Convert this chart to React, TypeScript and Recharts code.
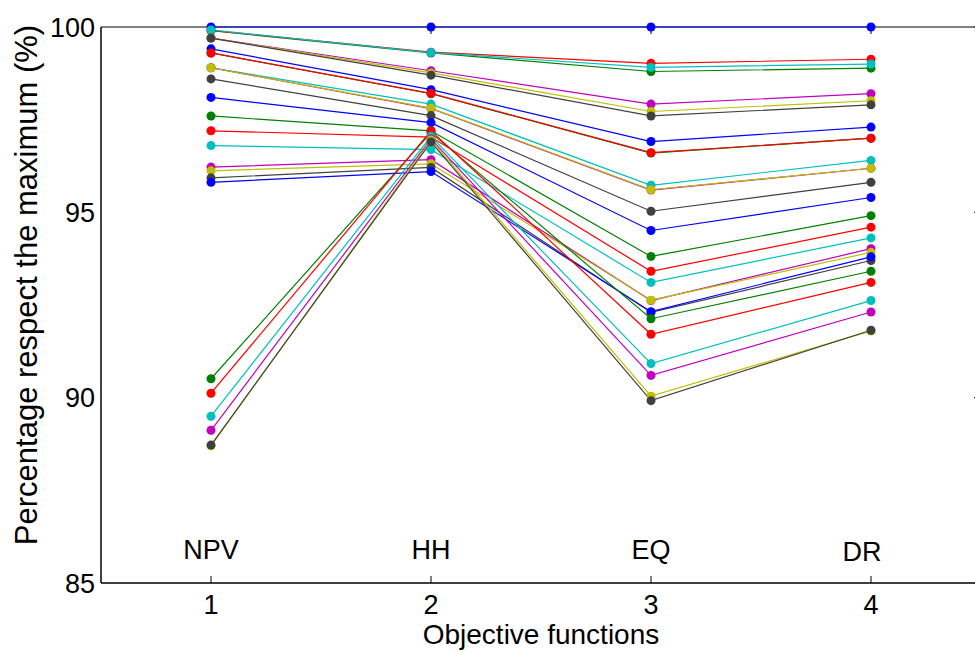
import React from "react";
import {
  LineChart,
  Line,
  XAxis,
  YAxis,
  ReferenceDot,
  ReferenceLine,
} from "recharts";

// Objective positions on the x axis and their short names
const objectives = [1, 2, 3, 4];
const objectiveNames = ["NPV", "HH", "EQ", "DR"];
const yTicks = [85, 90, 95, 100];

// MATLAB-like colour cycle
const palette = ["#0000ff", "#008000", "#ff0000", "#00bfbf", "#bf00bf", "#bfbf00", "#404040"];

// Percentage of the maximum reached by each solution for NPV, HH, EQ, DR
const solution01 = [100, 100, 100, 100];
const solution02 = [99.9, 99.3, 98.8, 98.89];
const solution03 = [99.91, 99.32, 99.02, 99.13];
const solution04 = [99.92, 99.31, 98.91, 99.0];
const solution05 = [99.7, 98.82, 97.92, 98.2];
const solution06 = [99.7, 98.76, 97.72, 98.01];
const solution07 = [99.7, 98.7, 97.6, 97.9];
const solution08 = [99.41, 98.31, 96.91, 97.3];
const solution09 = [99.3, 98.2, 96.6, 97.0];
const solution10 = [99.3, 98.21, 96.61, 97.0];
const solution11 = [98.9, 97.92, 95.73, 96.4];
const solution12 = [98.9, 97.8, 95.6, 96.19];
const solution13 = [98.9, 97.81, 95.61, 96.19];
const solution14 = [98.6, 97.61, 95.03, 95.81];
const solution15 = [98.1, 97.42, 94.51, 95.4];
const solution16 = [97.6, 97.2, 93.81, 94.91];
const solution17 = [97.2, 97.03, 93.41, 94.6];
const solution18 = [96.8, 96.69, 93.11, 94.31];
const solution19 = [96.22, 96.42, 92.62, 94.02];
const solution20 = [96.12, 96.31, 92.63, 93.92];
const solution21 = [95.93, 96.21, 92.3, 93.7];
const solution22 = [95.81, 96.1, 92.32, 93.8];
const solution23 = [90.51, 97.15, 92.13, 93.41];
const solution24 = [90.12, 97.2, 91.71, 93.11];
const solution25 = [89.5, 97.05, 90.92, 92.62];
const solution26 = [89.12, 96.98, 90.6, 92.31];
const solution27 = [88.7, 96.95, 90.04, 91.8];
const solution28 = [88.72, 96.9, 89.92, 91.82];

const solutions = [
  solution01, solution02, solution03, solution04, solution05, solution06, solution07,
  solution08, solution09, solution10, solution11, solution12, solution13, solution14,
  solution15, solution16, solution17, solution18, solution19, solution20, solution21,
  solution22, solution23, solution24, solution25, solution26, solution27, solution28,
];

const data = objectives.map((x, i) => {
  const row: Record<string, number> = { x };
  solutions.forEach((s, k) => {
    row[`s${k + 1}`] = s[i];
  });
  return row;
});

const X_DOMAIN: [number, number] = [0.5, 4.5];
const Y_DOMAIN: [number, number] = [85, 100];

const FONT = "'Liberation Sans', Arial, Helvetica, sans-serif";
const TICK_LEN = 7;
// tick length expressed in axis units (plot is 880 x 556 px)
const TICK_DX = (TICK_LEN * (X_DOMAIN[1] - X_DOMAIN[0])) / 880;
const TICK_DY = (TICK_LEN * (Y_DOMAIN[1] - Y_DOMAIN[0])) / 556;

// bottom ticks point into the plot, label sits below the axis
const BottomTick = (props: any) => {
  const { x, y, payload } = props;
  return (
    <g>
      <line x1={x} y1={y} x2={x} y2={y - TICK_LEN} stroke="#000" strokeWidth={1} />
      <text x={x} y={y + 31} textAnchor="middle" fontSize={27} fontFamily={FONT} fill="#000">
        {payload.value}
      </text>
    </g>
  );
};

const YTitle = (props: any) => {
  const { viewBox } = props;
  const cx = viewBox.x + viewBox.width - 75;
  const cy = viewBox.y + viewBox.height / 2 - 20;
  return (
    <text
      x={cx}
      y={cy}
      transform={`rotate(-90 ${cx} ${cy})`}
      textAnchor="middle"
      dominantBaseline="central"
      fontSize={31}
      fontFamily={FONT}
      fill="#000"
    >
      Percentage respect the maximum (%)
    </text>
  );
};

const XTitle = (props: any) => {
  const { viewBox } = props;
  return (
    <text
      x={viewBox.x + viewBox.width / 2}
      y={viewBox.y + 61}
      textAnchor="middle"
      fontSize={28}
      fontFamily={FONT}
      fill="#000"
    >
      Objective functions
    </text>
  );
};

export default function App() {
  return (
    <div style={{ position: "absolute", left: 0, top: 0, width: 975, height: 654, overflow: "hidden", background: "#fff" }}>
      <LineChart width={990} height={654} data={data} margin={{ top: 27, right: 9, bottom: 0, left: 0 }}>
        <XAxis
          dataKey="x"
          type="number"
          domain={X_DOMAIN}
          ticks={objectives}
          height={71}
          axisLine={{ stroke: "#000", strokeWidth: 1.5 }}
          tickLine={false}
          tickSize={0}
          tickMargin={0}
          tick={<BottomTick />}
          label={<XTitle />}
        />
        <YAxis
          type="number"
          domain={Y_DOMAIN}
          ticks={yTicks}
          width={101}
          axisLine={{ stroke: "#000", strokeWidth: 1.5 }}
          tickLine={false}
          tickSize={0}
          tickMargin={6}
          tick={{ fontSize: 27, fontFamily: FONT, fill: "#000" }}
          label={<YTitle />}
        />
        {/* box: top and right edges */}
        <ReferenceLine y={Y_DOMAIN[1]} stroke="#000" strokeWidth={1.2} ifOverflow="visible" />
        <ReferenceLine x={X_DOMAIN[1]} stroke="#000" strokeWidth={1.2} ifOverflow="visible" />
        {/* inward ticks along the top edge */}
        {objectives.map((v) => (
          <ReferenceLine
            key={`top-${v}`}
            segment={[{ x: v, y: Y_DOMAIN[1] }, { x: v, y: Y_DOMAIN[1] - TICK_DY }]}
            stroke="#000"
            strokeWidth={1}
            ifOverflow="visible"
          />
        ))}
        {/* inward ticks along the right edge */}
        {yTicks.map((v) => (
          <ReferenceLine
            key={`right-${v}`}
            segment={[{ x: X_DOMAIN[1] - TICK_DX, y: v }, { x: X_DOMAIN[1], y: v }]}
            stroke="#000"
            strokeWidth={1}
            ifOverflow="visible"
          />
        ))}
        {solutions.map((_, k) => {
          const color = palette[k % palette.length];
          return (
            <Line
              key={k}
              type="linear"
              dataKey={`s${k + 1}`}
              stroke={color}
              strokeWidth={1.2}
              dot={{ r: 4.5, fill: color, stroke: color, strokeWidth: 0 }}
              activeDot={false}
              isAnimationActive={false}
            />
          );
        })}
        {objectiveNames.map((name, i) => (
          <ReferenceDot
            key={name}
            x={objectives[i]}
            y={85.9}
            r={0}
            fill="none"
            stroke="none"
            label={{
              value: name,
              position: "center",
              fontSize: 27,
              fontFamily: FONT,
              fill: "#000",
              dx: name === "DR" ? -9 : 0,
              dy: name === "DR" ? 2 : 0,
            }}
          />
        ))}
      </LineChart>
    </div>
  );
}
